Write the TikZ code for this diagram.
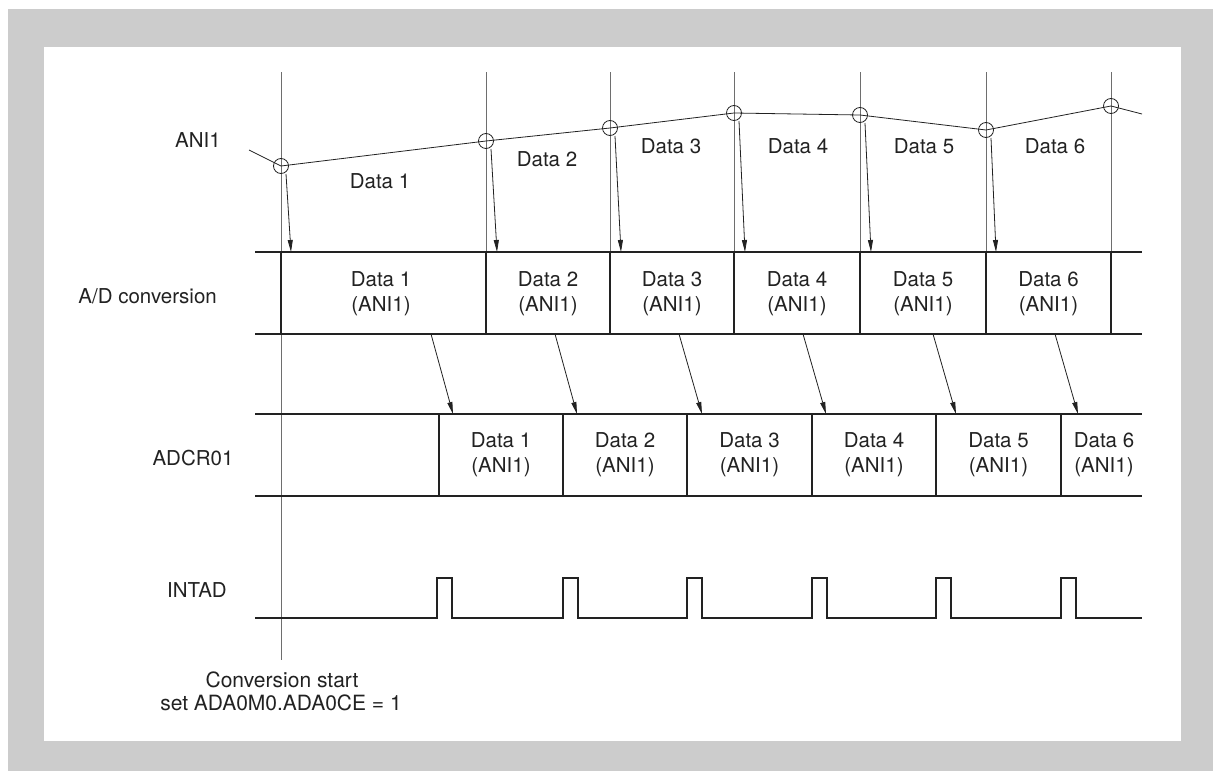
\documentclass[tikz,border=0pt]{standalone}
\usepackage{fontspec}
\setmainfont{TeX Gyre Heros}
\usetikzlibrary{arrows.meta}
\definecolor{framegray}{HTML}{CCCCCC}
\definecolor{ink}{HTML}{222222}
\definecolor{guide}{HTML}{6E6E6E}
\begin{document}
\begin{tikzpicture}[x=1pt,y=-1pt,
  txt/.style={font=\fontsize{20.5}{25}\selectfont, inner sep=0pt, text=ink},
  boxtxt/.style={txt, align=center},
  thin/.style={line width=0.8pt, draw=ink},
  guideline/.style={line width=1pt, draw=guide},
  thick/.style={line width=2.4pt, draw=ink},
  samp/.style={circle, draw=ink, line width=0.8pt, minimum size=15pt, inner sep=0pt},
  arr/.style={line width=0.8pt, draw=ink, -{Triangle[length=12pt,width=5pt]}}
]
\useasboundingbox (0,0) rectangle (1213,771);
\fill[white] (0,0) rectangle (1213,771);
\fill[framegray] (8,9) rectangle (1213,771);
\fill[white] (44,47) rectangle (1181,741);

% vertical guide lines
\draw[guideline] (281,72) -- (281,660);
\foreach \x in {486,610,734,860,986,1111}{
  \draw[guideline] (\x,72) -- (\x,252);
}

% ANI1 waveform
\coordinate (w0) at (249,150);
\coordinate (w8) at (1142,114);
\node[samp] (c1) at (281,166) {};
\node[samp] (c2) at (486,141) {};
\node[samp] (c3) at (610,128) {};
\node[samp] (c4) at (734,113) {};
\node[samp] (c5) at (860,115) {};
\node[samp] (c6) at (986,130) {};
\node[samp] (c7) at (1111,106) {};
\draw[thin] (w0) -- (c1.center) -- (c2.center) -- (c3.center) -- (c4.center)
  -- (c5.center) -- (c6.center) -- (c7.center) -- (w8);

% sample arrows to A/D row
\coordinate (a1) at (291,252);
\coordinate (a2) at (497,252);
\coordinate (a3) at (621,252);
\coordinate (a4) at (745,252);
\coordinate (a5) at (871,252);
\coordinate (a6) at (996,252);
\draw[arr] ([xshift=5pt,yshift=-8pt]c1.center) -- (a1);
\draw[arr] ([xshift=5pt,yshift=-8pt]c2.center) -- (a2);
\draw[arr] ([xshift=5pt,yshift=-8pt]c3.center) -- (a3);
\draw[arr] ([xshift=5pt,yshift=-8pt]c4.center) -- (a4);
\draw[arr] ([xshift=5pt,yshift=-8pt]c5.center) -- (a5);
\draw[arr] ([xshift=5pt,yshift=-8pt]c6.center) -- (a6);

% A/D conversion row
\draw[thick] (255,252) -- (1142,252);
\draw[thick] (255,334) -- (1142,334);
\foreach \x in {281,486,610,734,860,986,1111}{
  \draw[thick] (\x,252) -- (\x,334);
}

% ADCR01 row
\draw[thick] (255,414) -- (1142,414);
\draw[thick] (255,496) -- (1142,496);
\foreach \x in {439,563,687,812,936,1061}{
  \draw[thick] (\x,414) -- (\x,496);
}

% transfer arrows
\coordinate (t1s) at (431,334); \coordinate (t1e) at (453,414);
\coordinate (t2s) at (555,334); \coordinate (t2e) at (577,414);
\coordinate (t3s) at (679,334); \coordinate (t3e) at (702,414);
\coordinate (t4s) at (803,334); \coordinate (t4e) at (826,414);
\coordinate (t5s) at (933,334); \coordinate (t5e) at (956,414);
\coordinate (t6s) at (1055,334); \coordinate (t6e) at (1078,414);
\draw[arr] (t1s) -- (t1e);
\draw[arr] (t2s) -- (t2e);
\draw[arr] (t3s) -- (t3e);
\draw[arr] (t4s) -- (t4e);
\draw[arr] (t5s) -- (t5e);
\draw[arr] (t6s) -- (t6e);

% INTAD
\draw[thick, line join=miter] (255,618)
  -- (437,618) -- (437,578) -- (452,578) -- (452,618)
  -- (563,618) -- (563,578) -- (578,578) -- (578,618)
  -- (687,618) -- (687,578) -- (702,578) -- (702,618)
  -- (812,618) -- (812,578) -- (827,578) -- (827,618)
  -- (936,618) -- (936,578) -- (951,578) -- (951,618)
  -- (1061,618) -- (1061,578) -- (1076,578) -- (1076,618)
  -- (1142,618);

% row labels
\node[txt] (lani) at (198,140) {ANI1};
\node[txt, anchor=east] (lad) at (217,296) {A/D conversion};
\node[txt] (ladcr) at (193,458) {ADCR01};
\node[txt] (lint) at (197,590) {INTAD};

% ANI1 data labels
\node[txt] (d1) at (380,181) {Data 1};
\node[txt] (d2) at (547,159) {Data 2};
\node[txt] (d3) at (671,146) {Data 3};
\node[txt] (d4) at (798,146) {Data 4};
\node[txt] (d5) at (924,146) {Data 5};
\node[txt] (d6) at (1055,146) {Data 6};

% A/D box texts
\node[boxtxt] (ad1) at (381,294) {Data 1\\(ANI1)};
\node[boxtxt] (ad2) at (548,294) {Data 2\\(ANI1)};
\node[boxtxt] (ad3) at (672,294) {Data 3\\(ANI1)};
\node[boxtxt] (ad4) at (797,294) {Data 4\\(ANI1)};
\node[boxtxt] (ad5) at (923,294) {Data 5\\(ANI1)};
\node[boxtxt] (ad6) at (1048.5,294) {Data 6\\(ANI1)};

% ADCR01 box texts
\node[boxtxt] (r1) at (501,455) {Data 1\\(ANI1)};
\node[boxtxt] (r2) at (625,455) {Data 2\\(ANI1)};
\node[boxtxt] (r3) at (749.5,455) {Data 3\\(ANI1)};
\node[boxtxt] (r4) at (874,455) {Data 4\\(ANI1)};
\node[boxtxt] (r5) at (998.5,455) {Data 5\\(ANI1)};
\node[boxtxt] (r6) at (1104,455) {Data 6\\(ANI1)};

% bottom note
\node[txt, font=\fontsize{21}{25}\selectfont] (n1) at (282,680) {Conversion start};
\node[txt, font=\fontsize{21}{25}\selectfont] (n2) at (281,703) {set ADA0M0.ADA0CE = 1};
\end{tikzpicture}
\end{document}
